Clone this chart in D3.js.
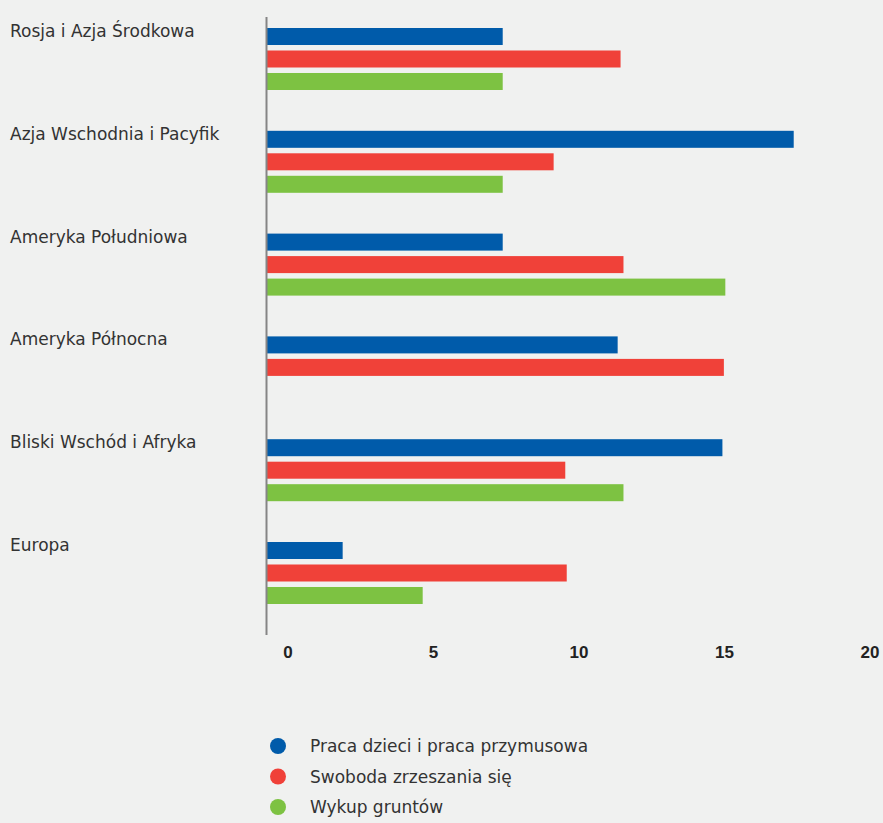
<!DOCTYPE html>
<html>
<head>
<meta charset="utf-8">
<script src="https://cdn.jsdelivr.net/npm/d3@7"></script>
<style>
  html, body { margin: 0; padding: 0; background: #f0f1f0; }
  svg { display: block; }
</style>
</head>
<body>
<script>
const categories = ["Rosja i Azja Środkowa", "Azja Wschodnia i Pacyfik", "Ameryka Południowa", "Ameryka Północna", "Bliski Wschód i Afryka", "Europa"];
const seriesNames = ["Praca dzieci i praca przymusowa", "Swoboda zrzeszania się", "Wykup gruntów"];
const childLabour = [8.1, 18.1, 8.1, 12.05, 15.65, 2.6];
const freedomOfAssociation = [12.15, 9.85, 12.25, 15.7, 10.25, 10.3];
const landGrab = [8.1, 8.1, 15.75, null, 12.25, 5.35];
const tickValues = [0, 5, 10, 15, 20];
const colors = ["#005baa", "#f04139", "#7dc242"];

const W = 883, H = 823;
const svg = d3.select("body").append("svg").attr("width", W).attr("height", H);
svg.append("rect").attr("width", W).attr("height", H).attr("fill", "#f0f1f0");

const x = d3.scaleLinear().domain([0, 20]).range([267, 849]);
const y = d3.scaleBand().domain(categories).range([28, 28 + 6 * 102.8]).paddingInner(0).paddingOuter(0);
const yInner = d3.scaleBand().domain(seriesNames).range([0, 62]).paddingInner(0.244).paddingOuter(0);

const allSeries = [childLabour, freedomOfAssociation, landGrab];
const rows = [];
categories.forEach((c, i) => {
  seriesNames.forEach((s, j) => {
    const v = allSeries[j][i];
    if (v != null) rows.push({ cat: c, series: s, v: v, color: colors[j] });
  });
});

svg.append("g").selectAll("rect").data(rows).join("rect")
  .attr("x", x(0))
  .attr("y", d => y(d.cat) + yInner(d.series))
  .attr("width", d => x(d.v) - x(0))
  .attr("height", yInner.bandwidth())
  .attr("fill", d => d.color);

// category labels
svg.append("g").selectAll("text").data(categories).join("text")
  .attr("x", 10)
  .attr("y", d => y(d) + 9)
  .attr("font-family", "'DejaVu Sans', sans-serif")
  .attr("font-size", 17)
  .attr("fill", "#333")
  .text(d => d);

// vertical axis line
svg.append("line")
  .attr("x1", 266.5).attr("x2", 266.5)
  .attr("y1", 17).attr("y2", 635)
  .attr("stroke", "#858585").attr("stroke-width", 2);

// x tick labels
const xAxis = d3.axisBottom(x).tickValues(tickValues).tickSize(0).tickPadding(0);
const gx = svg.append("g").attr("transform", "translate(20.5, 646)").call(xAxis);
gx.select(".domain").remove();
gx.selectAll("text")
  .attr("font-family", "'Liberation Sans', Arial, sans-serif")
  .attr("font-weight", "bold")
  .attr("font-size", 17)
  .attr("fill", "#222");

// legend
const legend = svg.append("g").selectAll("g").data(seriesNames).join("g")
  .attr("transform", (d, i) => `translate(0, ${746 + i * 30.5})`);
legend.append("circle").attr("cx", 278).attr("cy", 0).attr("r", 8).attr("fill", (d, i) => colors[i]);
legend.append("text")
  .attr("x", 310).attr("y", 6)
  .attr("font-family", "'DejaVu Sans', sans-serif")
  .attr("font-size", 17)
  .attr("fill", "#333")
  .text(d => d);
</script>
</body>
</html>
